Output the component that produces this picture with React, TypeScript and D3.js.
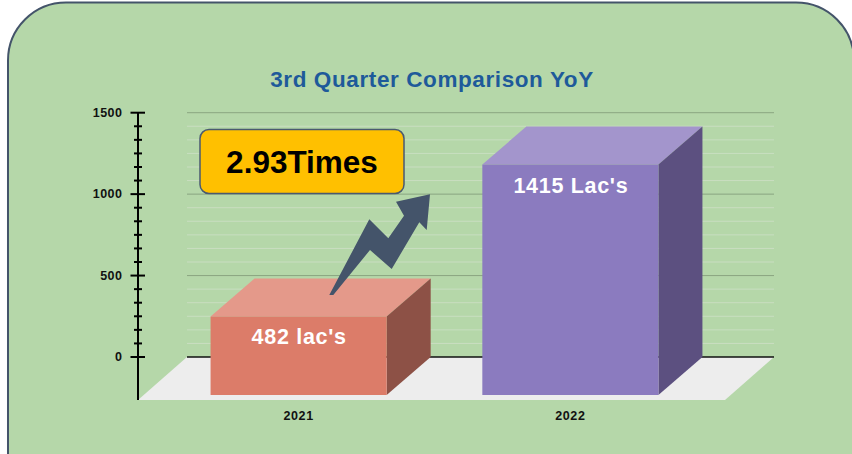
import React, { useEffect } from 'react';
import * as d3 from 'd3';

// chart data
const years = ['2021', '2022'];
const values = [482, 1415];
const valueLabels = ["482 lac's", "1415 Lac's"];
const yTicks = [0, 500, 1000, 1500];
const title = '3rd Quarter Comparison YoY';
const badgeText = '2.93Times';

const W = 852;
const H = 454;
const FONT = '"Liberation Sans", Arial, sans-serif';

// 3d geometry
const wallLeft = 187;
const wallRight = 774;
const barDx = 44;
const barDy = 38;
const floorDx = 49;
const floorDy = 43;

const barColors = [
  { front: '#dc7c69', top: '#e4998a', side: '#8d5146' },
  { front: '#8b7bbf', top: '#a395cc', side: '#5c5080' },
];

// zig-zag arrow, relative to its tail
const arrowShape: [number, number][] = [
  [0, 0], [40, -75.7], [59, -56.7], [74.7, -79.3], [66.7, -93.3], [100.7, -100.7],
  [97.4, -65], [90, -72.7], [62.4, -26], [40.7, -45], [4, 0],
];

export default function App() {
  useEffect(() => {
    document.body.style.margin = '0';
  }, []);

  const y = d3.scaleLinear().domain([0, 1500]).range([357, 112.7]);
  const x = d3.scaleBand().domain(years).range([141, 728]).paddingInner(0.352).paddingOuter(0.256);
  const bw = x.bandwidth();
  const base = y(0);
  const minorTicks = d3.range(0, 1500 + 1e-6, 500 / 6).filter((t) => !yTicks.includes(Math.round(t)));

  const arrowLine = d3.line();
  const arrowTail: [number, number] = [329.3, 295];

  return (
    <svg width={W} height={H} style={{ display: 'block', background: '#fff' }}>
      <rect x={8} y={2.5} width={846} height={520} rx={58} ry={58}
        fill="#b5d7a9" stroke="#44546a" strokeWidth={2} />

      <text x={432} y={86.5} textAnchor="middle" fontFamily={FONT} fontWeight="bold"
        fontSize={22.5} letterSpacing={0.6} fill="#1e5a9a">{title}</text>

      {/* back wall grid */}
      {minorTicks.map((t) => (
        <line key={'mg' + t} x1={wallLeft} x2={wallRight} y1={y(t)} y2={y(t)} stroke="#c9dec1" strokeWidth={1} />
      ))}
      {yTicks.filter((t) => t > 0).map((t) => (
        <line key={'g' + t} x1={wallLeft} x2={wallRight} y1={y(t)} y2={y(t)} stroke="#8aa580" strokeWidth={1} />
      ))}

      {/* floor */}
      <path
        d={`M${wallLeft},${base}L${wallRight},${base}L${wallRight - floorDx},${base + floorDy}L${wallLeft - floorDx},${base + floorDy}Z`}
        fill="#ededed" />
      <line x1={wallLeft} x2={wallRight} y1={base} y2={base} stroke="#111" strokeWidth={1.5} />

      {/* y axis */}
      <line x1={138} x2={138} y1={y(1500)} y2={base + floorDy} stroke="#000" strokeWidth={2} />
      {minorTicks.map((t) => (
        <line key={'mt' + t} x1={134} x2={142} y1={y(t)} y2={y(t)} stroke="#000" strokeWidth={2} />
      ))}
      {yTicks.map((t) => (
        <g key={'t' + t}>
          <line x1={130.5} x2={145} y1={y(t)} y2={y(t)} stroke="#000" strokeWidth={2} />
          <text x={122.5} y={y(t) + 4.3} textAnchor="end" fontFamily={FONT} fontWeight="bold"
            fontSize={12.5} letterSpacing={0.5} fill="#111">{t}</text>
        </g>
      ))}

      {/* bars */}
      {years.map((yr, i) => {
        const x0 = x(yr) as number;
        const top = y(values[i]);
        const c = barColors[i];
        return (
          <g key={yr}>
            <path d={`M${x0},${top + barDy}L${x0 + barDx},${top}L${x0 + bw + barDx},${top}L${x0 + bw},${top + barDy}Z`} fill={c.top} />
            <path d={`M${x0 + bw},${top + barDy}L${x0 + bw + barDx},${top}L${x0 + bw + barDx},${base}L${x0 + bw},${base + barDy}Z`} fill={c.side} />
            <rect x={x0} y={top + barDy} width={bw} height={base - top} fill={c.front} />
            <text x={x0 + bw / 2 + 0.5} y={top + barDy + 28} textAnchor="middle" fontFamily={FONT}
              fontWeight="bold" fontSize={21.5} letterSpacing={0.7} fill="#fff">{valueLabels[i]}</text>
            <text x={x0 + bw / 2} y={419.5} textAnchor="middle" fontFamily={FONT} fontWeight="bold"
              fontSize={12.5} letterSpacing={0.6} fill="#111">{yr}</text>
          </g>
        );
      })}

      {/* growth arrow */}
      <path
        d={arrowLine(arrowShape.map(([dx, dy]) => [arrowTail[0] + dx, arrowTail[1] + dy]) as [number, number][]) + 'Z'}
        fill="#44546a" />

      {/* badge */}
      <rect x={200} y={129.5} width={204} height={64} rx={9} ry={9} fill="#ffc000" stroke="#4a5a70" strokeWidth={1.5} />
      <text x={302} y={173} textAnchor="middle" fontFamily={FONT} fontWeight="bold" fontSize={31.5}
        fill="#000">{badgeText}</text>
    </svg>
  );
}
